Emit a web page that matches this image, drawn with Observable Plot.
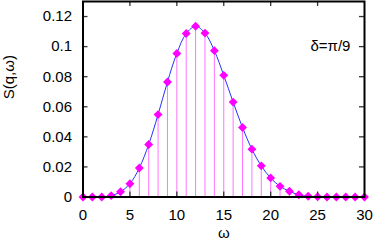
<!DOCTYPE html>
<html>
<head>
<meta charset="utf-8">
<script src="https://cdn.jsdelivr.net/npm/d3@7"></script>
<script src="https://cdn.jsdelivr.net/npm/@observablehq/plot@0.6"></script>
<style>
  html, body { margin: 0; padding: 0; background: #fff; }
  #chart svg { display: block; }
</style>
</head>
<body>
<div id="chart"></div>
<script>
// Data
const omega = [0,1,2,3,4,5,6,7,8,9,10,11,12,13,14,15,16,17,18,19,20,21,22,23,24,25,26,27,28,29,30];
const S = [0,0,0,0.0009,0.0035,0.0088,0.0193,0.0349,0.0548,0.0765,0.0955,0.1087,0.1135,0.109,0.0973,0.0809,0.0631,0.0462,0.0318,0.0207,0.0127,0.0071,0.0038,0.0015,0.0005,0.0002,0,0,0,0,0];
const xTicks = [0,5,10,15,20,25,30];
const yTicks = [0,0.02,0.04,0.06,0.08,0.1,0.12];
const innerXTicks = [5,10,15,20,25];
const innerYTicks = [0.02,0.04,0.06,0.08,0.1,0.12];
const yLabel = "S(q,ω)";
const xLabel = "ω";
const note = "δ=π/9";

const data = omega.map((w, i) => ({w, s: S[i]}));

const W = 374, H = 243;
const mL = 82.5, mR = 10, mT = 1, mB = 46.5;
const innerH = H - mT - mB;
const innerW = W - mL - mR;
const tl = 5;
const font = "'Liberation Sans', Arial, sans-serif";

const chart = Plot.plot({
  width: W,
  height: H,
  marginLeft: mL,
  marginRight: mR,
  marginTop: mT,
  marginBottom: mB,
  style: {fontFamily: font, fontSize: "15px", color: "#000", background: "#fff"},
  x: {domain: [0, 30]},
  y: {domain: [0, 0.13]},
  marks: [
    Plot.ruleX(data, {x: "w", y1: 0, y2: "s", stroke: "#ff00ff", strokeOpacity: 0.55, strokeWidth: 1}),
    Plot.line(data, {x: "w", y: "s", stroke: "#2233ff", strokeWidth: 1, curve: "catmull-rom"}),
    Plot.dot(data, {x: "w", y: "s", symbol: "diamond2", r: 4, fill: "#ff00ff", stroke: "none"}),
    Plot.tickX(innerXTicks, {x: d => d, insetTop: innerH - tl, stroke: "#333", strokeWidth: 1.3}),
    Plot.tickX(innerXTicks, {x: d => d, insetBottom: innerH - tl, stroke: "#333", strokeWidth: 1.3}),
    Plot.tickY(innerYTicks, {y: d => d, insetRight: innerW - tl, stroke: "#333", strokeWidth: 1.3}),
    Plot.tickY(innerYTicks, {y: d => d, insetLeft: innerW - tl, stroke: "#333", strokeWidth: 1.3}),
    Plot.axisX({ticks: xTicks, tickSize: 0, tickPadding: 12, label: null, tickFormat: d => String(d), fontSize: 15}),
    Plot.axisY({ticks: yTicks, tickSize: 0, tickPadding: 11, label: null, tickFormat: d => String(d), fontSize: 15}),
    Plot.text([yLabel], {text: d => d, frameAnchor: "left", dx: -74, rotate: -90, fontSize: 15}),
    Plot.text([xLabel], {text: d => d, frameAnchor: "bottom", dy: 41, fontSize: 15}),
    Plot.text([note], {text: d => d, x: 28.5, y: 0.1, textAnchor: "end", fontSize: 15}),
    Plot.frame({stroke: "#000", strokeWidth: 2})
  ]
});
document.getElementById("chart").appendChild(chart);
</script>
</body>
</html>
